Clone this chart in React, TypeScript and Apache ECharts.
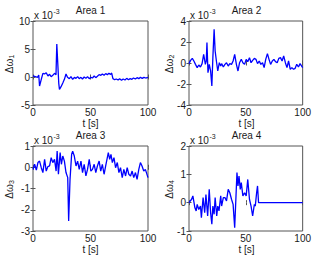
import React, { useEffect, useRef } from "react";
import * as echarts from "echarts";

// ---- data (values in units of 10^-3) ----
const areaTitles = ["Area 1", "Area 2", "Area 3", "Area 4"];
const xTickValues = [0, 50, 100];
const yMin = [-5, -4, -3, -1];
const yMax = [10, 4, 1, 2];
const yStep = [5, 2, 1, 1];

const t1 = [0, 2, 4, 5, 5.7, 7.2, 8.6, 10, 11.5, 13, 14.4, 15.8, 17.2, 18.7, 20, 20.7, 22.4, 23, 24.4, 26, 27.3, 28.7, 30, 31.6, 33, 34.5, 36, 37.4, 38.8, 40.2, 41.7, 43, 44.5, 46, 47.4, 48.9, 50.3, 51.7, 53.2, 54.6, 56, 57.5, 59, 60.3, 61.8, 63.2, 64.7, 66, 67.5, 68.4, 69.5, 71, 72.4, 74, 75.3, 77, 78.4, 80, 81.5, 83, 84.5, 86, 87.4, 89, 90.5, 92, 93.4, 95, 96.5, 98, 100];
const w1 = [0.18, 0.06, -0.06, 0.36, -1.61, -0.42, 0.65, 0.54, 0.77, 0.18, 0.48, 0.06, 0.3, 0.65, 0.42, 5.89, -1.13, -2.2, -1.73, -1.01, -0.42, 0.54, -0.06, -0.3, 0.06, -0.42, -0.06, -0.24, 0.06, -0.3, -0.06, -0.36, 0, -0.24, 0.06, -0.3, -0.06, -0.18, 0.18, -0.12, 0.12, 0.42, 0.3, 0.54, 0.3, 0.6, 0.42, 0.65, 0.48, 0.71, -0.3, -0.48, -0.36, -0.54, -0.3, -0.6, -0.36, -0.54, -0.24, -0.48, -0.3, -0.42, -0.18, -0.36, -0.12, -0.3, -0.06, -0.24, -0.06, -0.18, -0.06];

const t2 = [0, 1.4, 2.9, 4.3, 5.7, 7.2, 8.6, 10.1, 11.5, 12.9, 14.4, 15.2, 15.8, 16.7, 17.8, 19, 20.1, 21, 22.1, 23, 24.1, 25.3, 26.7, 27.9, 28.7, 30.2, 31.6, 33, 34.5, 35.9, 37.4, 38.8, 40.2, 41.7, 43.1, 44.5, 46, 47.4, 48.9, 50.3, 51.7, 53.2, 54.6, 56, 57.5, 58.9, 60.3, 61.8, 63.2, 64.7, 66.1, 67.5, 69, 70.4, 71.8, 73.3, 74.7, 76.1, 77.6, 79, 80.5, 81.9, 83.3, 84.8, 86.2, 87.6, 89.1, 90.5, 92, 93.4, 94.8, 96.3, 97.7, 100];
const w2 = [-0.06, 0.25, 0.44, 0.19, -0.13, -0.44, -0.19, -0.38, -0.06, 0.83, -0.13, 0.19, 1.94, -0.92, -0.13, -0.76, -2.19, 0.51, 3.21, 1.14, 0.19, -0.76, 0.03, -0.29, -0.06, -0.38, -0.13, 0.03, -0.29, -0.06, -0.13, 0.19, 0.83, -0.13, -0.76, 0.03, 0.35, 0.03, -0.13, 0.35, 0.13, 0.51, 0.03, 0.25, 0.44, 0.35, -0.06, 0.19, -0.13, 0.03, -0.44, 0.35, 0.89, 0.35, -0.13, 0.19, 0.35, 0.13, 0.03, 0.44, 0.51, 0.19, 0.67, 0.03, -0.44, 0.19, -0.6, -0.44, -0.6, -0.51, -0.13, -0.38, -0.06, -0.44];

const t3 = [0, 1.4, 2.9, 4.3, 5.7, 7.2, 8.6, 10.1, 11.5, 12.9, 14.4, 15.8, 17.2, 18.7, 20.1, 21, 22.1, 23.6, 24.7, 25.9, 27.3, 28.7, 30.2, 31, 32.2, 33.6, 34.5, 35.9, 37.4, 38.8, 40.2, 41.7, 43.1, 44.5, 46, 47.4, 48.9, 50.3, 51.7, 53.2, 54.6, 56, 57.5, 58.9, 60.3, 61.8, 63.2, 65.5, 66.7, 67.8, 69, 70.4, 71.8, 73.3, 74.7, 76.1, 77.6, 79, 80.5, 81.9, 83.3, 84.8, 86.2, 87.6, 89.1, 90.5, 92, 93.4, 94.8, 96.3, 97.7, 100];
const w3 = [-0.1, 0.14, -0.13, 0.22, 0.29, -0.02, -0.25, 0.37, -0.18, 0.03, 0.06, 0.45, 0.22, 0.37, -0.18, 0.76, -0.33, 0.69, 0.14, 0.53, 0.29, -0.25, -0.49, -2.53, -0.57, 0.61, 0.76, 0.53, 0.06, 0.29, -0.1, 0.29, -0.25, 0.14, -0.41, -0.1, 0.37, -0.18, -0.1, 0.14, -0.25, 0.06, 0.29, -0.18, 0.14, -0.33, 0.06, 0.69, 0.37, 0.61, 0.22, 0.45, -0.02, 0.22, -0.25, -0.02, -0.49, -0.1, -0.41, -0.02, -0.33, -0.41, -0.18, -0.49, -0.25, -0.57, -0.1, 0.22, 0.06, -0.18, -0.1, -0.49];

const t4 = [0, 2.3, 3.4, 5.2, 6.3, 7.2, 8.6, 10.1, 10.9, 12.4, 13.8, 14.9, 16.4, 17.8, 19, 20.1, 21, 22.1, 23, 24.4, 25.3, 26.4, 27.9, 28.7, 30.2, 31.6, 33, 34.5, 35.9, 37.4, 38.8, 40.2, 41.1, 42.2, 43.1, 44, 45.1, 46, 47.4, 48.9, 50.3, 51.7, 53.2, 54.6, 56, 57.5, 58.3, 59.5, 60.3, 61.2, 61.8, 100];
const w4 = [0, 0.12, 0.24, -0.18, -0.29, -0.06, -0.24, -0.12, -0.53, 0.18, -0.35, 0.29, -0.47, 0.47, -0.35, -0.76, -0.12, -0.41, 0.18, -0.47, -0.12, -0.29, 0.24, -0.12, 0.18, 0.18, 0.06, 0.47, 0.35, 0.12, -0.06, -0.88, 0, 1.06, 0.59, 0.94, 0.47, 0.71, 0.24, 0.35, 0.24, 0.82, 0.12, -0.12, -0.47, -0.06, -0.12, 0.35, 0.59, 0, 0, 0];

const times = [t1, t2, t3, t4];
const values = [w1, w2, w3, w4];
const subscripts = ["1", "2", "3", "4"];

// ---- layout ----
const grids = [
  { left: 33, top: 21, width: 115, height: 84 },
  { left: 189, top: 21, width: 115, height: 84 },
  { left: 33, top: 146, width: 115, height: 85 },
  { left: 189, top: 146, width: 115, height: 85 },
];
const FONT = "Liberation Sans, Arial, Helvetica, sans-serif";
const TXT = "#1a1a1a";
const AX = "#555";

export default function App() {
  const ref = useRef<HTMLDivElement>(null);
  useEffect(() => {
    if (!ref.current) return;
    const chart = echarts.init(ref.current, undefined, { renderer: "svg" });
    const xAxis: any[] = [];
    const yAxis: any[] = [];
    const series: any[] = [];
    const graphic: any[] = [];
    grids.forEach((g, i) => {
      const tick = { show: true, inside: true, length: 2.5, lineStyle: { color: AX, width: 1 } };
      xAxis.push({
        gridIndex: i, type: "value", min: xTickValues[0], max: xTickValues[2], interval: xTickValues[1] - xTickValues[0],
        position: "bottom", axisLine: { show: false }, axisTick: tick, splitLine: { show: false },
        axisLabel: { margin: 2, fontSize: 10, lineHeight: 10, color: TXT, fontFamily: FONT, showMinLabel: true, showMaxLabel: true },
      });
      xAxis.push({
        gridIndex: i, type: "value", min: xTickValues[0], max: xTickValues[2], interval: xTickValues[1] - xTickValues[0],
        position: "top", axisLine: { show: false }, axisTick: tick, splitLine: { show: false }, axisLabel: { show: false },
      });
      yAxis.push({
        gridIndex: i, type: "value", min: yMin[i], max: yMax[i], interval: yStep[i],
        position: "left", axisLine: { show: false }, axisTick: tick, splitLine: { show: false },
        axisLabel: { margin: 3, fontSize: 10, lineHeight: 10, color: TXT, fontFamily: FONT, showMinLabel: true, showMaxLabel: true },
      });
      yAxis.push({
        gridIndex: i, type: "value", min: yMin[i], max: yMax[i], interval: yStep[i],
        position: "right", axisLine: { show: false }, axisTick: tick, splitLine: { show: false }, axisLabel: { show: false },
      });
      series.push({
        type: "line", xAxisIndex: 2 * i, yAxisIndex: 2 * i, showSymbol: false, symbol: "none",
        lineStyle: { color: "#0000ff", width: 1.3 }, data: times[i].map((t, k) => [t, values[i][k]]),
        silent: true,
      });
      const cx = g.left + g.width / 2;
      const cy = g.top + g.height / 2;
      graphic.push({
        type: "text", x: cx, y: g.top - 11,
        style: { text: areaTitles[i], fontSize: 10, fontFamily: FONT, fill: TXT, textAlign: "center", textVerticalAlign: "middle" },
      });
      graphic.push({
        type: "text", x: g.left + 1, y: g.top - 5.5,
        style: { text: "x 10", fontSize: 10, fontFamily: FONT, fill: TXT, textAlign: "left", textVerticalAlign: "middle" },
      });
      graphic.push({
        type: "text", x: g.left + 20.5, y: g.top - 10,
        style: { text: "-3", fontSize: 7, fontFamily: FONT, fill: TXT, textAlign: "left", textVerticalAlign: "middle" },
      });
      graphic.push({
        type: "text", x: cx, y: g.top + g.height + 18,
        style: { text: "t [s]", fontSize: 10, lineHeight: 10, fontFamily: FONT, fill: TXT, textAlign: "center", textVerticalAlign: "middle" },
      });
      graphic.push({
        type: "group", x: i % 2 === 0 ? 9 : 169, y: cy + 1, rotation: Math.PI / 2,
        children: [
          { type: "text", x: -2, y: 0, style: { text: "Δω", fontSize: 10, fontFamily: FONT, fill: TXT, textAlign: "center", textVerticalAlign: "middle" } },
          { type: "text", x: 5.5, y: 2.5, style: { text: subscripts[i], fontSize: 7, fontFamily: FONT, fill: TXT, textAlign: "left", textVerticalAlign: "middle" } },
        ],
      });
    });
    chart.setOption({
      animation: false,
      backgroundColor: "#ffffff",
      grid: grids.map((g) => ({ ...g, show: true, borderColor: AX, borderWidth: 1, backgroundColor: "transparent", containLabel: false })),
      xAxis, yAxis, series, graphic,
    });
    return () => chart.dispose();
  }, []);
  return <div ref={ref} style={{ position: "absolute", left: 0, top: 0, width: 314, height: 256 }} />;
}
